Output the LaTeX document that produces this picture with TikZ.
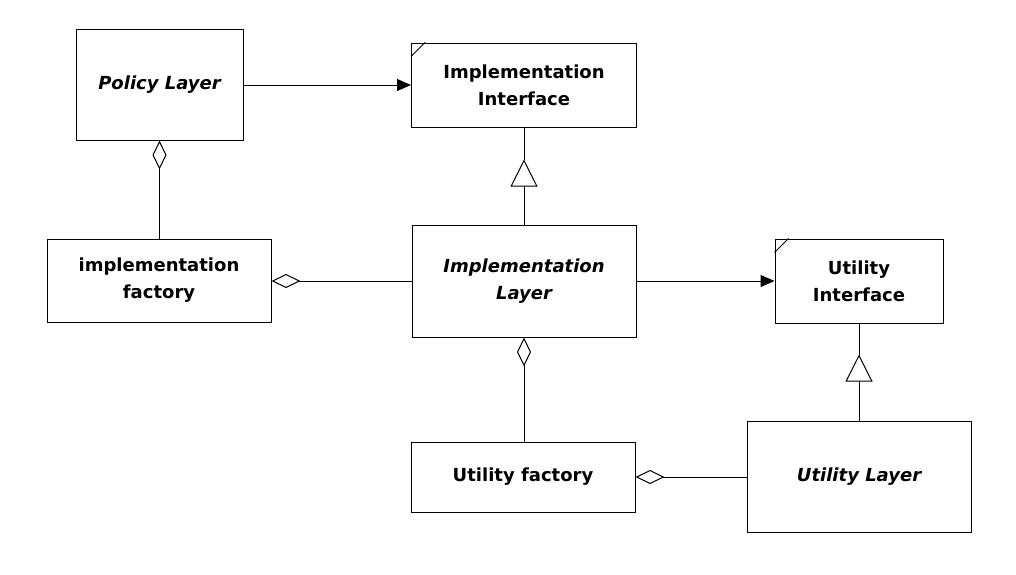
\documentclass[tikz,border=0pt]{standalone}
\usepackage{fontspec}
\setmainfont{DejaVu Sans}
\usetikzlibrary{arrows.meta}
\begin{document}
\begin{tikzpicture}[x=1pt,y=-1pt,
  box/.style={draw,line width=1pt,rectangle,inner sep=0pt,align=center,
    font=\fontsize{18}{27}\selectfont\bfseries},
  ital/.style={font=\fontsize{18}{27}\selectfont\bfseries\itshape},
  conn/.style={line width=1pt},
  assoc/.style={conn,-{Triangle[length=14pt,width=12pt]}},
  aggr/.style={conn,{Diamond[open,length=29pt,width=14pt,line width=1pt]}-},
  gen/.style={conn,-{Triangle[open,length=27pt,width=27pt,line width=1pt]}}]
\useasboundingbox (0,0) rectangle (1016,574);
\fill[white] (0,0) rectangle (1016,574);
\node[box,ital,minimum width=167pt,minimum height=111pt] (policy) at (159.5,84.5) {Policy Layer};
\node[box,minimum width=225pt,minimum height=84pt] (iface) at (524,85) {Implementation\\Interface};
\node[box,minimum width=224pt,minimum height=83pt] (factory) at (159,280.5) {implementation\\factory};
\node[box,ital,minimum width=224pt,minimum height=112pt] (layer) at (524,281) {Implementation\\Layer};
\node[box,minimum width=168pt,minimum height=84pt] (uiface) at (859,281) {Utility\\Interface};
\node[box,minimum width=224pt,minimum height=70pt] (ufactory) at (523,477) {Utility factory};
\node[box,ital,minimum width=224pt,minimum height=111pt] (ulayer) at (859,476.5) {Utility Layer};
% interface corner marks
\draw[conn] ([yshift=-14pt]iface.north west) -- ([xshift=14pt]iface.north west);
\draw[conn] ([yshift=-14pt]uiface.north west) -- ([xshift=14pt]uiface.north west);
% associations
\draw[assoc] (policy.east |- iface.west) -- (iface.west);
\draw[assoc] (layer.east |- uiface.west) -- (uiface.west);
% aggregations
\draw[aggr] (policy.south) -- (policy.south |- factory.north);
\draw[aggr] (factory.east |- layer.west) -- (layer.west);
\draw[aggr] (layer.south) -- (layer.south |- ufactory.north);
\draw[aggr] (ufactory.east) -- (ufactory.east -| ulayer.west);
% generalizations
\draw[gen] (layer.north) -- ++(0,-65) coordinate (g1);
\draw[conn] (g1) -- (g1 |- iface.south);
\draw[gen] (ulayer.north) -- ++(0,-66) coordinate (g2);
\draw[conn] (g2) -- (g2 |- uiface.south);
\end{tikzpicture}
\end{document}
